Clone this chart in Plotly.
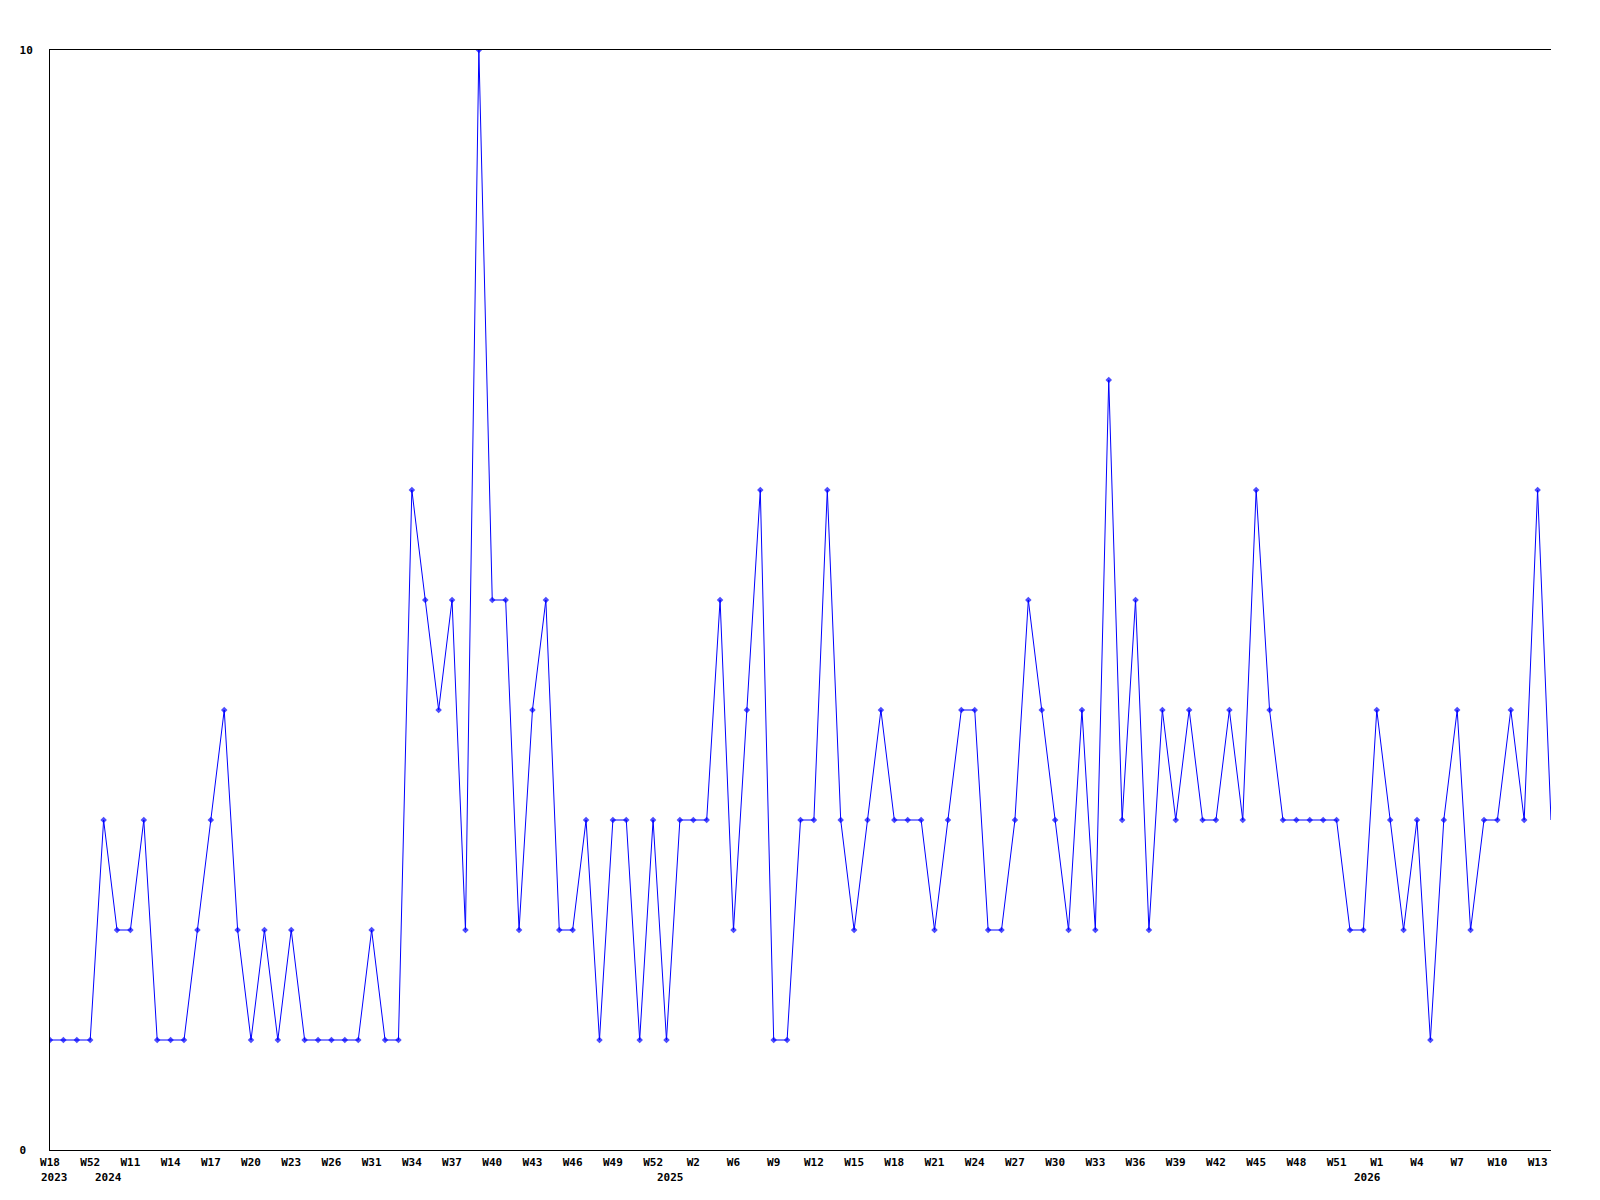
import plotly.graph_objects as go

# Weekly counts (one point per week that has data)
counts = [1, 1, 1, 1, 3, 2, 2, 3, 1, 1,
          1, 2, 3, 4, 2, 1, 2, 1, 2, 1,
          1, 1, 1, 1, 2, 1, 1, 6, 5, 4,
          5, 2, 10, 5, 5, 2, 4, 5, 2, 2,
          3, 1, 3, 3, 1, 3, 1, 3, 3, 3,
          5, 2, 4, 6, 1, 1, 3, 3, 6, 3,
          2, 3, 4, 3, 3, 3, 2, 3, 4, 4,
          2, 2, 3, 5, 4, 3, 2, 4, 2, 7,
          3, 5, 2, 4, 3, 4, 3, 3, 4, 3,
          6, 4, 3, 3, 3, 3, 3, 2, 2, 4,
          3, 2, 3, 1, 3, 4, 2, 3, 3, 4,
          3, 6, 3]

# Week labels shown on every third point
week_labels = ["W18", "W52", "W11", "W14", "W17", "W20", "W23", "W26", "W31", "W34",
               "W37", "W40", "W43", "W46", "W49", "W52", "W2", "W6", "W9", "W12",
               "W15", "W18", "W21", "W24", "W27", "W30", "W33", "W36", "W39", "W42",
               "W45", "W48", "W51", "W1", "W4", "W7", "W10", "W13"]

# Year labels and the point index where each year starts
year_labels = ["2023", "2024", "2025", "2026"]
year_start_index = [0, 4, 46, 98]

y_tick_values = [0, 10]
y_tick_labels = ["0\u00a0", "10"]

x_idx = list(range(len(counts)))
tick_idx = x_idx[::3][:len(week_labels)]

FONT = dict(family="DejaVu Sans Mono", size=11, color="black", weight="bold")

marker_sizes = [5] * (len(counts) - 1) + [0]

fig = go.Figure()
fig.add_trace(go.Scatter(
    x=x_idx, y=counts, mode="lines+markers",
    line=dict(color="#0000FF", width=1),
    marker=dict(symbol="diamond", size=marker_sizes, color="#0000FF", line=dict(width=0)),
    showlegend=False, hoverinfo="x+y",
))

for lbl, idx in zip(year_labels, year_start_index):
    fig.add_annotation(
        x=idx, y=0, xref="x", yref="paper", text=lbl, showarrow=False,
        xanchor="left", yanchor="top", xshift=-11, yshift=-19,
        font=FONT,
    )

fig.update_layout(
    width=1584, height=1184,
    margin=dict(l=42, r=41, t=42, b=42),
    plot_bgcolor="white", paper_bgcolor="white",
    font=FONT,
)
fig.update_xaxes(
    range=[0, len(counts) - 1], tickmode="array", tickvals=tick_idx, ticktext=week_labels,
    showgrid=False, zeroline=False, showline=True, linecolor="black", linewidth=1,
    mirror=True, ticks="", ticklabelstandoff=2, tickangle=0, tickfont=FONT,
)
fig.update_yaxes(
    range=[0, 10], tickmode="array", tickvals=y_tick_values, ticktext=y_tick_labels,
    showgrid=False, zeroline=False, showline=True, linecolor="black", linewidth=1,
    mirror=False, ticks="", ticklabelstandoff=14, tickfont=FONT,
)

fig.write_html("out.html")
